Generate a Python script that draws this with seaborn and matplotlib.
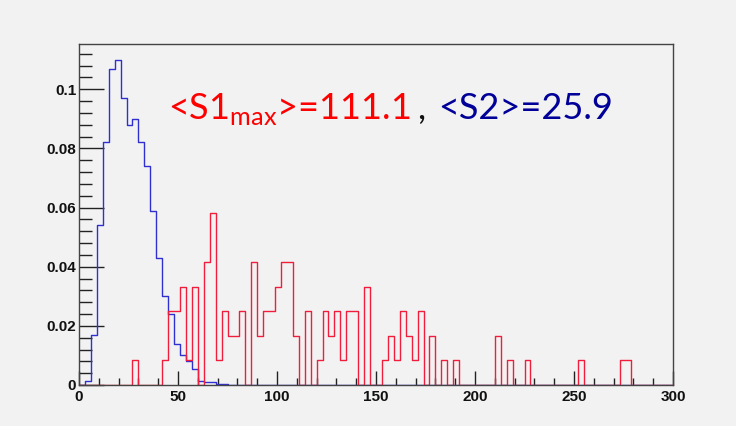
import numpy as np
import pandas as pd
import matplotlib
matplotlib.use("Agg")
import matplotlib.pyplot as plt
import seaborn as sns
from matplotlib.ticker import MultipleLocator, FixedLocator, FixedFormatter

# ---- data ----
bin_width = 3
x_range = (0, 300)

# S2 (blue) : left edge of each non-empty bin and normalised content
s2_left = [3, 6, 9, 12, 15, 18, 21, 24, 27, 30, 33, 36, 39, 42, 45, 48,
           51, 54, 57, 60, 63, 66, 69, 72]
s2_val = [0.0015, 0.017, 0.054, 0.082, 0.107, 0.110, 0.097, 0.088, 0.090,
          0.082, 0.074, 0.059, 0.043, 0.030, 0.024, 0.014, 0.010, 0.008,
          0.0053, 0.0014, 0.0011, 0.0010, 0.0005, 0.0002]

# S1max (red)
s1_left = [27, 42, 45, 48, 51, 54, 57, 63, 66, 69, 72, 75, 78, 81, 87, 90,
           93, 96, 99, 102, 105, 108, 114, 120, 123, 126, 129, 132, 135,
           138, 144, 153, 156, 159, 162, 165, 168, 171, 177, 183, 189, 210,
           216, 225, 252, 273, 276]
s1_val = [0.0083, 0.0083, 0.025, 0.025, 0.0333, 0.0083, 0.0333, 0.0417,
          0.0583, 0.0083, 0.025, 0.0167, 0.0167, 0.025, 0.0417, 0.0167,
          0.025, 0.025, 0.0333, 0.0417, 0.0417, 0.0167, 0.025, 0.0083,
          0.025, 0.0167, 0.025, 0.0083, 0.025, 0.025, 0.0333, 0.0083,
          0.0167, 0.0083, 0.025, 0.0167, 0.0083, 0.025, 0.0167, 0.0083,
          0.0083, 0.0167, 0.0083, 0.0083, 0.0083, 0.0083, 0.0083]

y_ticks = [0, 0.02, 0.04, 0.06, 0.08, 0.1]
y_tick_labels = ["0", "0.02", "0.04", "0.06", "0.08", "0.1"]
x_ticks = [0, 50, 100, 150, 200, 250, 300]
x_tick_labels = ["0", "50", "100", "150", "200", "250", "300"]

label_red = r"<S1$_\mathregular{max}$>=111.1"
label_sep = ","
label_blue = "<S2>=25.9"

# ---- figure ----
sns.set_theme(style="white")
plt.rcParams["font.family"] = ["Liberation Sans", "DejaVu Sans"]

bg = "#f2f2f2"
fig = plt.figure(figsize=(7.36, 4.26), dpi=100, facecolor=bg)
ax = fig.add_axes([79 / 736, 1 - 385 / 426, (673 - 79) / 736, (385 - 44) / 426])
ax.set_facecolor(bg)

df2 = pd.DataFrame({"x": np.array(s2_left) + bin_width / 2, "w": s2_val})
df1 = pd.DataFrame({"x": np.array(s1_left) + bin_width / 2, "w": s1_val})

sns.histplot(data=df2, x="x", weights="w", binwidth=bin_width,
             binrange=x_range, element="step", fill=False,
             color="#3030d0", linewidth=1.0, ax=ax)
sns.histplot(data=df1, x="x", weights="w", binwidth=bin_width,
             binrange=x_range, element="step", fill=False,
             color="#f01e3c", linewidth=1.0, ax=ax)

ax.set_xlim(*x_range)
ax.set_ylim(0, 0.1153)
ax.set_xlabel("")
ax.set_ylabel("")

ax.xaxis.set_major_locator(FixedLocator(x_ticks))
ax.xaxis.set_major_formatter(FixedFormatter(x_tick_labels))
ax.xaxis.set_minor_locator(MultipleLocator(10))
ax.yaxis.set_major_locator(FixedLocator(y_ticks))
ax.yaxis.set_major_formatter(FixedFormatter(y_tick_labels))
ax.yaxis.set_minor_locator(MultipleLocator(0.004))

tick_col = "#222222"
ax.tick_params(axis="x", which="major", direction="in", length=10, width=1,
               color=tick_col, pad=3.5, labelsize=11)
ax.tick_params(axis="x", which="minor", direction="in", length=5, width=1,
               color=tick_col)
ax.tick_params(axis="y", which="major", direction="in", length=18, width=1,
               color=tick_col, pad=2, labelsize=11)
ax.tick_params(axis="y", which="minor", direction="in", length=9, width=1,
               color=tick_col)
ax.tick_params(bottom=True, left=True, top=False, right=False,
               which="both")
for lab in ax.get_xticklabels() + ax.get_yticklabels():
    lab.set_fontweight("bold")
    lab.set_color("#111111")

for s in ax.spines.values():
    s.set_visible(True)
    s.set_color("#444444")
    s.set_linewidth(1.0)

txt_font = ["Lato", "DejaVu Sans"]
fs = 26
base_y = 1 - 119 / 426
fig.text(168 / 736, base_y, label_red, color="#ff0000", fontsize=fs,
         family=txt_font, va="baseline", ha="left")
fig.text(417 / 736, base_y, label_sep, color="#111111", fontsize=fs,
         family=txt_font, va="baseline", ha="left")
fig.text(438 / 736, base_y, label_blue, color="#000099", fontsize=fs,
         family=txt_font, va="baseline", ha="left")

fig.savefig("out.png", dpi=100, facecolor=bg)
